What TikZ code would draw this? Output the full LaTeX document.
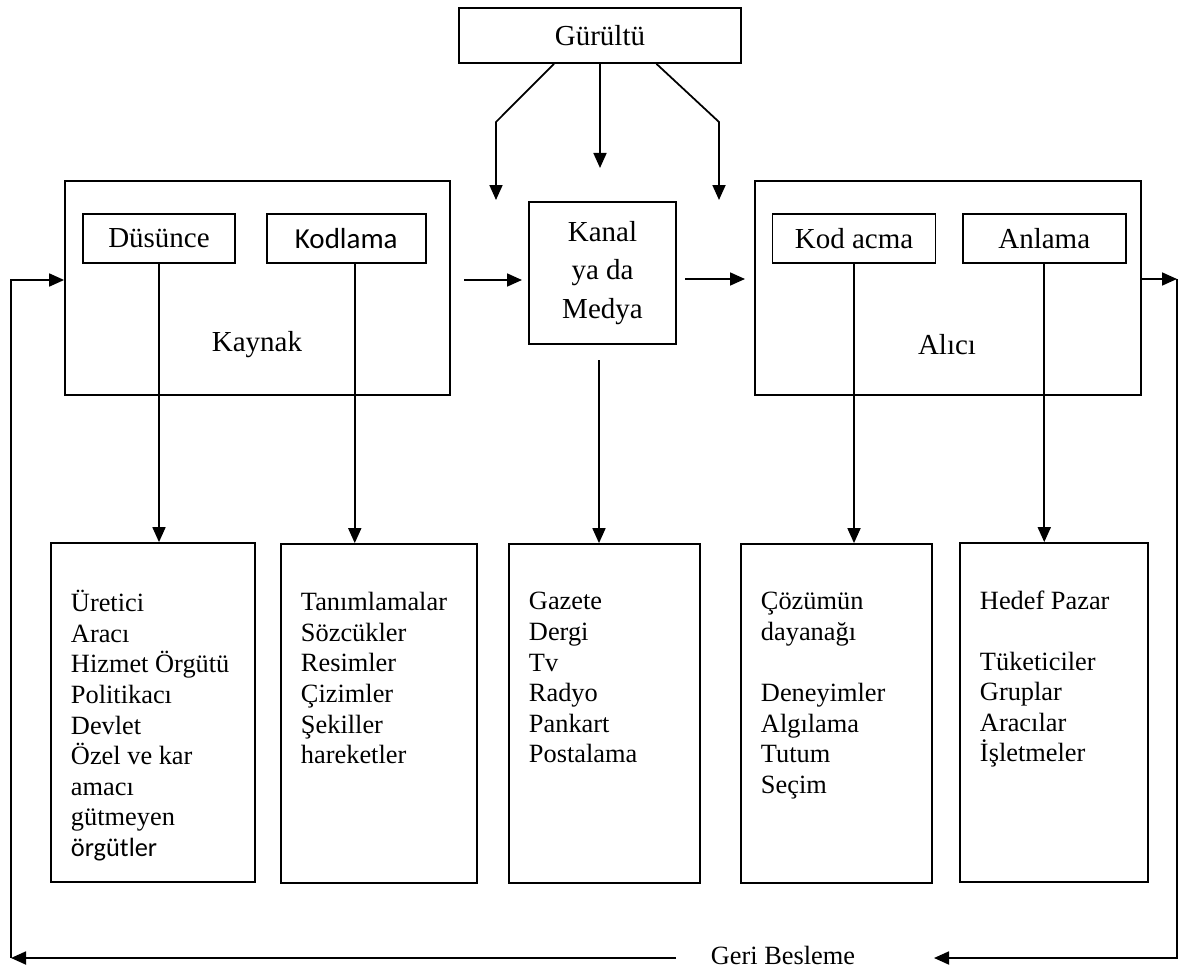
\documentclass[tikz,border=0pt]{standalone}
\usepackage{fontspec}
\setmainfont{Liberation Serif}
\newfontfamily\calfont{Carlito}
\usetikzlibrary{arrows.meta, positioning, calc}
\newcommand{\ustyazi}{\fontsize{16.5}{22}\selectfont}
\newcommand{\altyazi}{\fontsize{15}{17.4}\selectfont}
\tikzset{
  kutu/.style = {rectangle, draw=black, line width=1pt, inner sep=0pt,
    align=center, font=\ustyazi},
  buyuk/.style = {kutu, minimum width=7.7cm, minimum height=4.28cm},
  kucuk/.style = {kutu, minimum height=0.98cm},
  liste/.style = {kutu, minimum height=6.78cm},
  icerik/.style = {anchor=north west, inner sep=0pt, align=left, font=\altyazi,
    execute at begin node={\rule{0pt}{14pt}}},
  ok/.style = {-{Triangle[length=0.3cm, width=0.26cm]}, line width=1pt},
}

\begin{document}
\begin{tikzpicture}
\useasboundingbox (0,0) rectangle (23.58,-19.4);

\node[kutu, minimum width=5.64cm, minimum height=1.1cm] (gur) at (12,-0.71) {Gürültü};

\node[buyuk] (kaynak) at (5.15,-5.76) {};
\node[kucuk, minimum width=3.04cm] (dus) at (3.18,-4.77) {Düsünce};
\node[kucuk, minimum width=3.18cm, right=0.6cm of dus, font=\ustyazi\calfont] (kod) {Kodlama};
\node[font=\ustyazi] (kaynakad) at (5.14,-6.9) {Kaynak};

\node[kutu, minimum width=2.94cm, minimum height=2.84cm] (kanal) at (12.05,-5.46) {Kanal\\ya da\\Medya};

\node[buyuk, minimum width=7.72cm] (alici) at (18.96,-5.76) {};
\node[kucuk, minimum width=3.26cm] (kac) at (17.08,-4.77) {Kod acma};
\node[kucuk, minimum width=3.26cm, right=0.51cm of kac] (anl) {Anlama};
\node[font=\ustyazi] (alicad) at (18.94,-6.9) {Alıcı};

\node[liste, minimum width=4.08cm] (l1) at (3.06,-14.25) {};
\node[liste, minimum width=3.92cm] (l2) at (7.58,-14.27) {};
\node[liste, minimum width=3.82cm] (l3) at (12.09,-14.27) {};
\node[liste, minimum width=3.82cm] (l4) at (16.73,-14.27) {};
\node[liste, minimum width=3.76cm] (l5) at (21.08,-14.25) {};

\node[icerik] (t1) at ([shift={(0.41,-0.96)}]l1.north west) {Üretici\\Aracı\\Hizmet Örgütü\\Politikacı\\Devlet\\Özel ve kar\\amacı\\gütmeyen\\{\calfont örgütler}};
\node[icerik] (t2) at ([shift={(0.41,-0.98)}]l2.north west) {Tanımlamalar\\Sözcükler\\Resimler\\Çizimler\\Şekiller\\hareketler};
\node[icerik] (t3) at ([shift={(0.41,-0.98)}]l3.north west) {Gazete\\Dergi\\Tv\\Radyo\\Pankart\\Postalama};
\node[icerik] (t4) at ([shift={(0.41,-0.98)}]l4.north west) {Çözümün\\dayanağı\\[17.4pt]Deneyimler\\Algılama\\Tutum\\Seçim};
\node[icerik] (t5) at ([shift={(0.41,-0.96)}]l5.north west) {Hedef Pazar\\[17.4pt]Tüketiciler\\Gruplar\\Aracılar\\İşletmeler};

\node[font=\altyazi, inner sep=0pt] (geri) at (15.66,-19.1) {Geri Besleme};

\coordinate (nz1b) at (9.92,-2.44);
\coordinate (nz1) at (9.92,-4.0);
\coordinate (nz2) at (11.98,-3.36);
\coordinate (nz3b) at (14.38,-2.44);
\coordinate (nz3) at (14.38,-4.0);
\coordinate (ka1) at (9.28,-5.6);
\coordinate (ka2) at (10.44,-5.6);
\coordinate (kb1) at (13.7,-5.58);
\coordinate (kb2) at (14.9,-5.58);
\coordinate (kd) at (11.98,-7.2);
\coordinate (kodalt) at ([xshift=0.17cm]kod.south);
\coordinate (sagust) at (23.54,-5.58);
\coordinate (sagalt) at (23.54,-19.16);
\coordinate (gbR) at (18.68,-19.16);
\coordinate (gbL) at (13.52,-19.16);
\coordinate (solalt) at (0.22,-19.16);
\coordinate (solust) at (0.22,-5.6);

\draw[ok] ([xshift=-0.92cm]gur.south) -- (nz1b) -- (nz1);
\draw[ok] (gur.south) -- (gur.south |- nz2);
\draw[ok] ([xshift=1.13cm]gur.south) -- (nz3b) -- (nz3);
\draw[ok] (ka1) -- (ka2);
\draw[ok] (kb1) -- (kb2);
\draw[ok] (dus.south) -- (dus.south |- l1.north);
\draw[ok] (kodalt) -- (kodalt |- l2.north);
\draw[ok] (kd) -- (kd |- l3.north);
\draw[ok] (kac.south) -- (kac.south |- l4.north);
\draw[ok] (anl.south) -- (anl.south |- l5.north);
\draw[ok] (alici.east |- sagust) -- (sagust);
\draw[ok] (sagust) -- (sagalt) -- (gbR);
\draw[ok] (gbL) -- (solalt);
\draw[ok] (solalt) -- (solust) -- (kaynak.west |- solust);

\end{tikzpicture}
\end{document}
